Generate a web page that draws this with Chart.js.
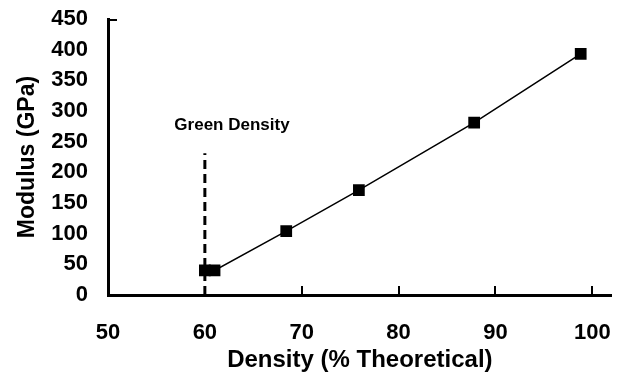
<!DOCTYPE html>
<html>
<head>
<meta charset="utf-8">
<script src="https://cdn.jsdelivr.net/npm/chart.js@4"></script>
<style>
  html, body { margin: 0; padding: 0; background: #fff; }
  #graph { display: block; }
</style>
</head>
<body>
<canvas id="graph" width="620" height="375"></canvas>
<script>
const density = [60, 61, 68.4, 75.9, 87.8, 98.8];
const modulus = [40, 40, 104, 171, 281, 393];

// green density marker line
const greenX = [60, 60];
const greenY = [0, 231];
const greenLabel = 'Green Density';

const xTicks = [50, 60, 70, 80, 90, 100];
const yTicks = [0, 50, 100, 150, 200, 250, 300, 350, 400, 450];

const FONT = "'Liberation Sans', Arial, sans-serif";

const toPoints = (xs, ys) => xs.map((x, i) => ({ x: x, y: ys[i] }));

// little inward tick marks + the annotation text
const extras = {
    id: 'extras',
    afterDraw(chart) {
        const ctx = chart.ctx;
        const xs = chart.scales.x;
        const ys = chart.scales.y;
        const bottom = chart.chartArea.bottom;
        const left = chart.chartArea.left;
        ctx.save();
        ctx.strokeStyle = '#000';
        ctx.lineWidth = 2;
        xTicks.slice(1).forEach(v => {
            const px = Math.round(xs.getPixelForValue(v));
            ctx.beginPath();
            ctx.moveTo(px, bottom);
            ctx.lineTo(px, bottom - 9);
            ctx.stroke();
        });
        const topY = ys.getPixelForValue(yTicks[yTicks.length - 1]);
        ctx.beginPath();
        ctx.moveTo(left, topY + 1);
        ctx.lineTo(left + 9, topY + 1);
        ctx.stroke();

        ctx.fillStyle = '#000';
        ctx.font = 'bold 17px ' + FONT;
        ctx.textAlign = 'center';
        ctx.textBaseline = 'middle';
        ctx.fillText(greenLabel, xs.getPixelForValue(62.8), ys.getPixelForValue(276));
        ctx.restore();
    }
};

new Chart(document.getElementById('graph'), {
    type: 'scatter',
    data: {
        datasets: [
            {
                label: 'Modulus',
                data: toPoints(density, modulus),
                showLine: true,
                borderColor: '#000',
                borderWidth: 1.5,
                backgroundColor: '#000',
                pointStyle: 'rect',
                pointRadius: 8.3,
                pointBorderWidth: 0,
                order: 1
            },
            {
                label: greenLabel,
                data: toPoints(greenX, greenY),
                showLine: true,
                borderColor: '#000',
                borderWidth: 3,
                borderDash: [9, 5],
                pointRadius: 0,
                order: 2
            }
        ]
    },
    options: {
        responsive: false,
        animation: false,
        layout: { padding: { top: 19, right: 3, left: 14, bottom: 0 } },
        plugins: {
            legend: { display: false },
            tooltip: { enabled: false }
        },
        scales: {
            x: {
                type: 'linear',
                min: 50,
                max: 102,
                afterBuildTicks: (axis) => { axis.ticks = xTicks.map(v => ({ value: v })); },
                afterFit: (axis) => {
                    axis.paddingRight = 0;
                    axis.paddingLeft = 0;
                    axis.height = 80;
                },
                grid: { display: false, drawTicks: false },
                border: { display: true, color: '#000', width: 3 },
                ticks: {
                    color: '#000',
                    padding: 25,
                    autoSkip: false,
                    maxRotation: 0,
                    font: { family: FONT, size: 22, weight: 'bold' }
                },
                title: {
                    display: true,
                    text: 'Density (% Theoretical)',
                    color: '#000',
                    padding: { top: 0, bottom: 0 },
                    font: { family: FONT, size: 24, weight: 'bold' }
                }
            },
            y: {
                min: 0,
                max: 450,
                afterBuildTicks: (axis) => { axis.ticks = yTicks.map(v => ({ value: v })); },
                afterFit: (axis) => {
                    axis.paddingTop = 0;
                    axis.paddingBottom = 0;
                    axis.width = 94;
                },
                grid: { display: false, drawTicks: false },
                border: { display: true, color: '#000', width: 3 },
                ticks: {
                    color: '#000',
                    padding: 20,
                    autoSkip: false,
                    font: { family: FONT, size: 22, weight: 'bold' }
                },
                title: {
                    display: true,
                    text: 'Modulus (GPa)',
                    color: '#000',
                    padding: { top: 0, bottom: 6 },
                    font: { family: FONT, size: 23, weight: 'bold' }
                }
            }
        }
    },
    plugins: [extras]
});
</script>
</body>
</html>
